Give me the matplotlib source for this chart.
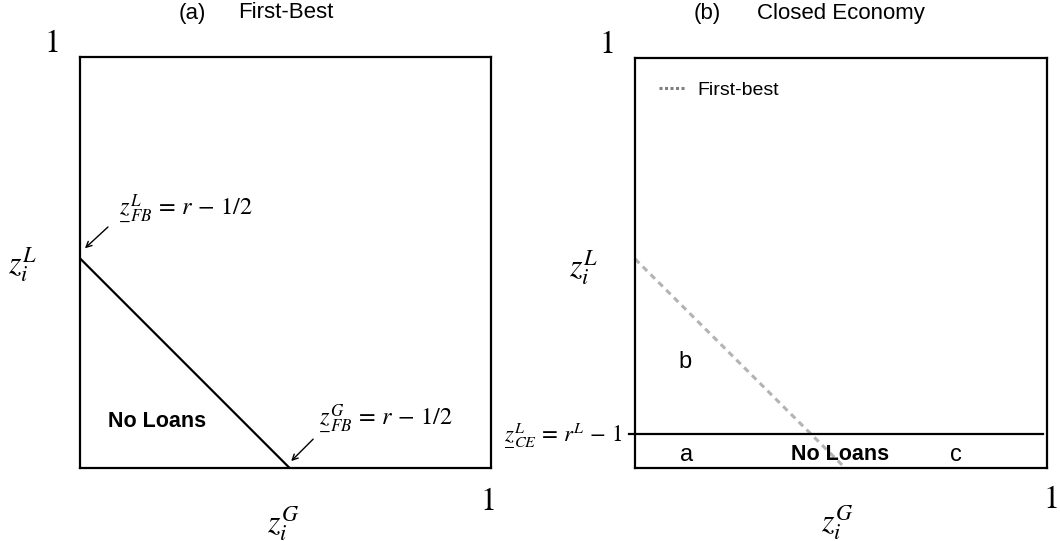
import matplotlib
matplotlib.use("Agg")
import matplotlib.pyplot as plt

plt.rcParams['mathtext.fontset'] = 'stix'
plt.rcParams['font.family'] = ['Liberation Sans', 'DejaVu Sans']

# thresholds (unit square)
fb_cut = 0.51          # first-best: zG + zL = r - 1/2
ce_cut_L = 0.083       # closed economy: zL = r^L - 1
fb_line_x = [0.0, fb_cut]
fb_line_y = [fb_cut, 0.0]
ce_line_x = [-0.015, 0.99]
ce_line_y = [ce_cut_L, ce_cut_L]

panel_titles = [("(a)", "First-Best"), ("(b)", "Closed Economy")]
tag_offsets = [93, 134]   # px from title centre to the "(a)"/"(b)" tag
region_labels_b = ["a", "b", "c"]

# mathtext has no \underline, so stack a minus under the z
ZU = r'\underset{-}{z}'

fig = plt.figure(figsize=(10.6, 5.41), dpi=100)
ax1 = fig.add_axes([80 / 1060, 73 / 541, 411 / 1060, 411 / 541])
ax2 = fig.add_axes([635 / 1060, 73 / 541, 412 / 1060, 410 / 541])

eq_fs = 17.5
lab_fs = 23
one_fs = 23

for ax in (ax1, ax2):
    ax.set_xlim(0, 1)
    ax.set_ylim(0, 1)
    ax.set_xticks([])
    ax.set_yticks([])
    for sp in ax.spines.values():
        sp.set_linewidth(1.6)

# ---- panel (a)
ax1.plot(fb_line_x, fb_line_y, color='black', lw=1.6)
ax1.text(-0.066, 1.03, '1', transform=ax1.transAxes, fontsize=one_fs,
         family='STIXGeneral', ha='center', va='center')
ax1.text(0.993, -0.083, '1', transform=ax1.transAxes, fontsize=one_fs,
         family='STIXGeneral', ha='center', va='center')
ax1.text(-0.14, 0.494, r'$z_i^L$', transform=ax1.transAxes, fontsize=lab_fs,
         ha='center', va='center')
ax1.text(0.494, -0.134, r'$z_i^G$', transform=ax1.transAxes, fontsize=lab_fs,
         ha='center', va='center')
ax1.text(0.092, 0.635, r'$' + ZU + r'_{FB}^{L}\,=\,r\,-\,1/2$', fontsize=eq_fs,
         ha='left', va='center')
ax1.annotate('', xy=(0.007, 0.53), xytext=(0.073, 0.591),
             arrowprops=dict(arrowstyle='->', color='black', lw=1.0))
ax1.text(0.579, 0.124, r'$' + ZU + r'_{FB}^{G}\,=\,r\,-\,1/2$', fontsize=eq_fs,
         ha='left', va='center')
ax1.annotate('', xy=(0.509, 0.012), xytext=(0.572, 0.075),
             arrowprops=dict(arrowstyle='->', color='black', lw=1.0))
ax1.text(0.187, 0.112, 'No Loans', fontsize=15.5, fontweight='bold',
         ha='center', va='center')

# ---- panel (b)
ax2.plot(fb_line_x, fb_line_y, color='#b3b3b3', lw=2.2, dashes=(2, 1.6),
         label='First-best')
ax2.plot(ce_line_x, ce_line_y, color='black', lw=1.6, clip_on=False)
ax2.text(-0.068, 1.032, '1', transform=ax2.transAxes, fontsize=one_fs,
         family='STIXGeneral', ha='center', va='center')
ax2.text(1.029, -0.078, '1', transform=ax2.transAxes, fontsize=one_fs,
         family='STIXGeneral', ha='right', va='center')
ax2.text(-0.126, 0.488, r'$z_i^L$', transform=ax2.transAxes, fontsize=lab_fs,
         ha='center', va='center')
ax2.text(0.49, -0.134, r'$z_i^G$', transform=ax2.transAxes, fontsize=lab_fs,
         ha='center', va='center')
ax2.text(-0.03, ce_cut_L, r'$' + ZU + r'_{CE}^{L}\,=\,r^L\,-\,1$', fontsize=16.5,
         ha='right', va='center')
ax2.text(0.121, 0.258, region_labels_b[1], fontsize=17, ha='center', va='center')
ax2.text(0.124, 0.032, region_labels_b[0], fontsize=17, ha='center', va='center')
ax2.text(0.78, 0.032, region_labels_b[2], fontsize=17, ha='center', va='center')
ax2.text(0.498, 0.032, 'No Loans', fontsize=15.5, fontweight='bold',
         ha='center', va='center')
leg = ax2.legend(loc='upper left', frameon=False, fontsize=14,
                 handlelength=1.4, handletextpad=0.6,
                 bbox_to_anchor=(0.015, 0.985))
leg.get_lines()[0].set_color('#808080')
leg.get_lines()[0].set_dashes((1.0, 0.8))

# ---- panel titles
for ax, (tag, name), off in zip((ax1, ax2), panel_titles, tag_offsets):
    x0, x1 = ax.get_position().x0, ax.get_position().x1
    xc = (x0 + x1) / 2
    fig.text(xc, 1 - 13 / 541, name, fontsize=16, ha='center', va='center')
    fig.text(xc - off / 1060, 1 - 13 / 541, tag, fontsize=16, ha='center',
             va='center')

fig.savefig('out.png', dpi=100)
